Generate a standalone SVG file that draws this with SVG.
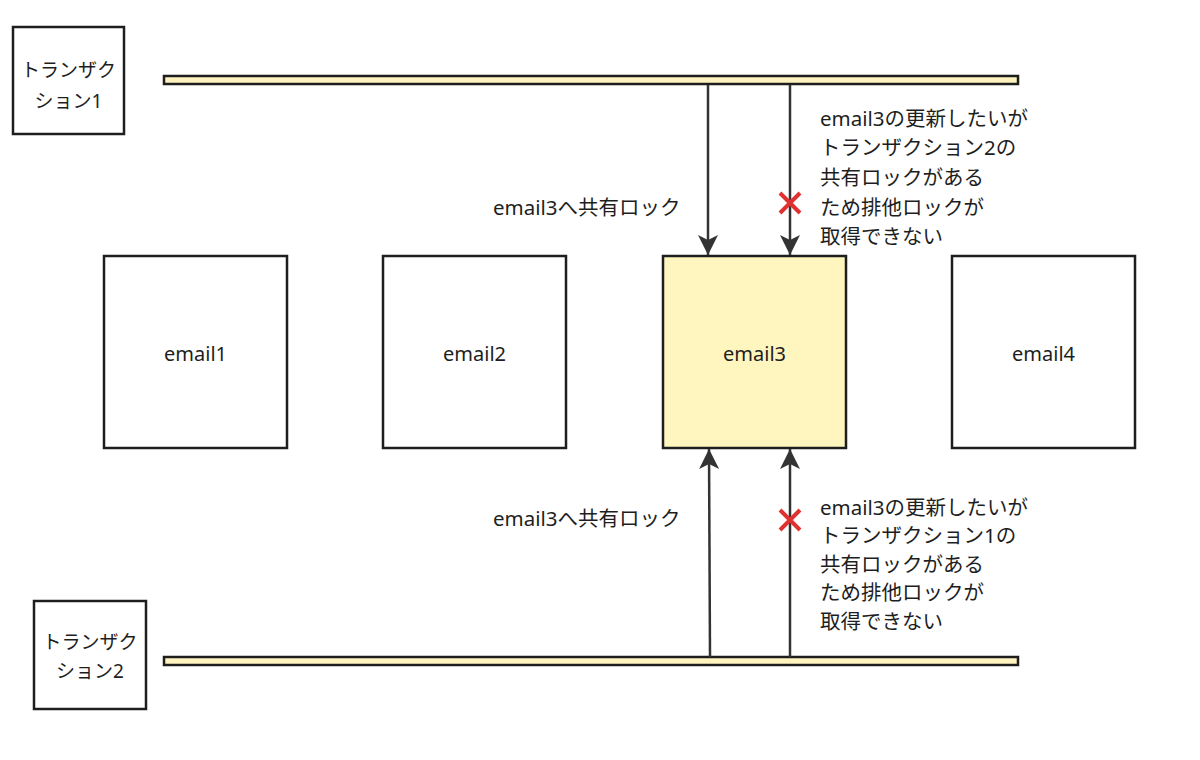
<svg xmlns="http://www.w3.org/2000/svg" width="1200" height="760" viewBox="0 0 1200 760">
<defs>
<style>
.box{fill:#ffffff;stroke:#1e1e1e;stroke-width:2.5}
.hl{fill:#fff5bf;stroke:#1e1e1e;stroke-width:2.5}
.bar{fill:#fff3bf;stroke:#1e1e1e;stroke-width:2.5}
.t{font-family:"Noto Sans","Noto Sans CJK JP",sans-serif;font-size:19px;fill:#1e1e1e}
.n{font-size:20px}
.l{font-size:20.5px}
.c{text-anchor:middle}
.edge{stroke:#333333;stroke-width:2.5;fill:none}
.x{stroke:#e03131;stroke-width:4;stroke-linecap:butt}
</style>
<marker id="ah" viewBox="0 0 22 22" refX="20" refY="11" markerWidth="22" markerHeight="22" markerUnits="userSpaceOnUse" orient="auto">
<path d="M0,1 L20,11 L0,21 L5,11 Z" fill="#333333"/>
</marker>
</defs>
<rect width="1200" height="760" fill="#ffffff"/>
<g id="tx1">
<rect class="box" x="13" y="27" width="111" height="107"/>
<text class="t c" x="68.5" y="77">トランザク</text>
<text class="t c" x="68.5" y="108">ション1</text>
</g>
<g id="bar1"><rect class="bar" x="164" y="76" width="854" height="8"/></g>
<g id="tx2">
<rect class="box" x="34" y="601" width="112" height="108"/>
<text class="t c" x="90" y="649">トランザク</text>
<text class="t c" x="90" y="678">ション2</text>
</g>
<g id="bar2"><rect class="bar" x="164" y="657" width="854" height="8"/></g>
<g id="email1"><rect class="box" x="104" y="256" width="183" height="192"/><text class="t n c" x="195.5" y="361">email1</text></g>
<g id="email2"><rect class="box" x="383" y="256" width="183" height="192"/><text class="t n c" x="474.5" y="361">email2</text></g>
<g id="email3"><rect class="hl" x="663" y="256" width="183" height="192"/><text class="t n c" x="754.5" y="361">email3</text></g>
<g id="email4"><rect class="box" x="952" y="256" width="183" height="192"/><text class="t n c" x="1043.5" y="361">email4</text></g>
<g id="connectors">
<line class="edge" x1="708" y1="85" x2="708" y2="255" marker-end="url(#ah)"/>
<line class="edge" x1="790" y1="85" x2="790" y2="255" marker-end="url(#ah)"/>
<line class="edge" x1="710" y1="657" x2="709" y2="449" marker-end="url(#ah)"/>
<line class="edge" x1="790" y1="657" x2="790" y2="449" marker-end="url(#ah)"/>
<path class="x" d="M780,193 L800,213 M800,193 L780,213"/>
<path class="x" d="M780,510 L800,530 M800,510 L780,530"/>
</g>
<g id="labels">
<text class="t l" x="493" y="215">email3へ共有ロック</text>
<text class="t l" x="493" y="526">email3へ共有ロック</text>
<text class="t l" x="820" y="126">email3の更新したいが</text>
<text class="t l" x="820" y="155">トランザクション2の</text>
<text class="t l" x="820" y="185">共有ロックがある</text>
<text class="t l" x="820" y="215">ため排他ロックが</text>
<text class="t l" x="820" y="244">取得できない</text>
<text class="t l" x="820" y="515">email3の更新したいが</text>
<text class="t l" x="820" y="543">トランザクション1の</text>
<text class="t l" x="820" y="572">共有ロックがある</text>
<text class="t l" x="820" y="600">ため排他ロックが</text>
<text class="t l" x="820" y="629">取得できない</text>
</g>
</svg>
